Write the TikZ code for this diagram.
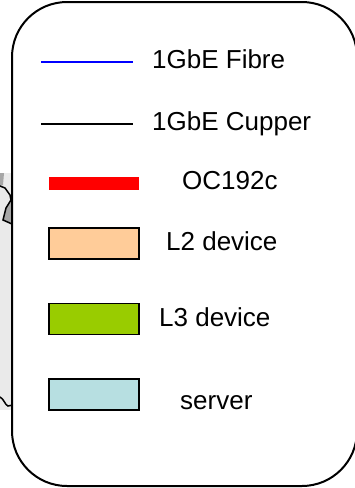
\documentclass[tikz,border=0pt]{standalone}
\usepackage{fontspec}
\setmainfont{Liberation Sans}

\definecolor{ltwo}{HTML}{FFCC99}
\definecolor{lthree}{HTML}{99CC00}
\definecolor{srv}{HTML}{B7DFE1}
\definecolor{fibre}{HTML}{0000FF}
\definecolor{cloudfill}{HTML}{EAEAEA}
\definecolor{cloudshade}{HTML}{A6A6A6}

\tikzset{
  swatch/.style={draw=black, line width=1.8pt, minimum width=90pt, minimum height=31pt, inner sep=0pt},
  legtext/.style={anchor=base west, inner sep=0pt, font=\fontsize{26}{30}\selectfont},
  linkfibre/.style={draw=fibre, line width=2pt},
  linkcopper/.style={draw=black, line width=2pt},
  linkoc/.style={draw=red, line width=13pt}
}

\begin{document}
\begin{tikzpicture}[x=1pt,y=-1pt]

\useasboundingbox (0,0) rectangle (355,488);
\clip (0,0) rectangle (355,488);

% piece of the cloud sticking out on the left
\fill[cloudfill] (0,173) rectangle (14,410);
\fill[cloudshade] (0,173) -- (4,173) -- (3,185) -- (0,186) -- cycle;
\fill[cloudshade] (11,200) -- (6,208) -- (4,216) -- (3,220) -- (12,224) -- (14,224) -- (14,200) -- cycle;
\draw[line width=1.5pt] (0,186) -- (5,188) -- (10,195) -- (11,200) -- (6,208) -- (4,216) -- (3,220) -- (12,224);
\draw[line width=1.5pt] (0,397) .. controls (4,399) and (5,405) .. (8,406) -- (13,405);

% legend frame
\draw[line width=2pt, fill=white, rounded corners=55pt] (12,2) rectangle (357,486);

% links
\coordinate (fibA) at (41,62);
\coordinate (fibB) at (133,62);
\path[linkfibre] (fibA) -- (fibB);
\node[legtext] (fibtxt) at (152,68) {1GbE Fibre};

\coordinate (cupA) at (41,124);
\coordinate (cupB) at (133,124);
\path[linkcopper] (cupA) -- (cupB);
\node[legtext] (cuptxt) at (152,130) {1GbE Cupper};

\coordinate (ocA) at (49,183);
\coordinate (ocB) at (139,183);
\path[linkoc] (ocA) -- (ocB);
\node[legtext] (octxt) at (182,189.5) {OC192c};

% devices
\node[swatch, fill=ltwo] (ltwobox) at (94,243.5) {};
\node[legtext] (ltwotxt) at (166,250) {L2 device};

\node[swatch, fill=lthree] (lthreebox) at (94,319) {};
\node[legtext] (lthreetxt) at (159,326) {L3 device};

\node[swatch, fill=srv] (srvbox) at (94,394.5) {};
\node[legtext] (srvtxt) at (180,409) {server};

\end{tikzpicture}
\end{document}
